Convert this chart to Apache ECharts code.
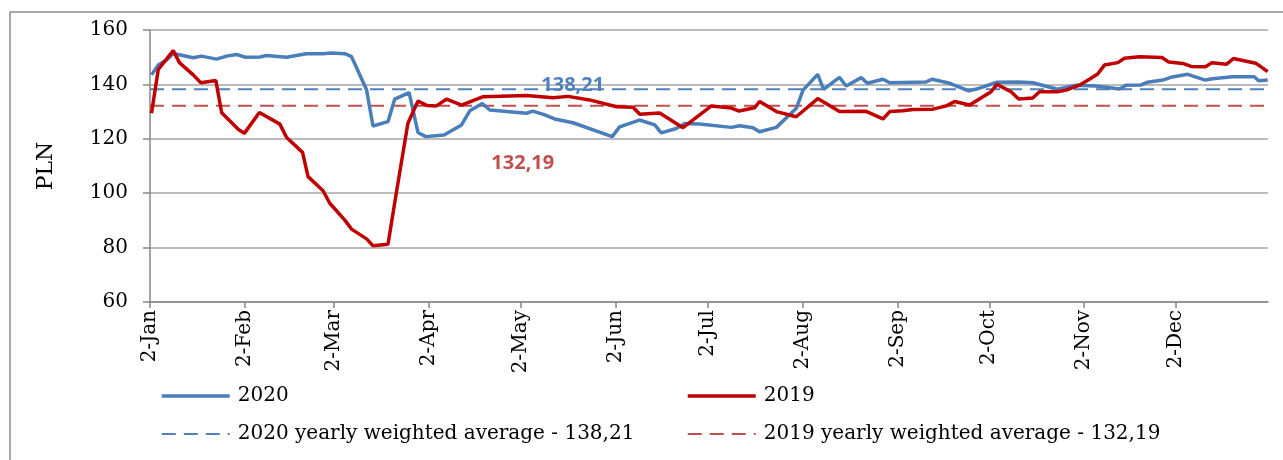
<!DOCTYPE html>
<html>
<head>
<meta charset="utf-8">
<script src="https://cdn.jsdelivr.net/npm/echarts@6/dist/echarts.min.js"></script>
<style>
  html, body { margin: 0; padding: 0; background: #fff; }
  #chart { width: 1283px; height: 460px; }
</style>
</head>
<body>
<div id="chart"></div>
<script>
// day offsets counted from 2-Jan
const tickDays = [0, 31, 60, 91, 121, 152, 182, 213, 244, 274, 305, 335]
const tickLabels = ['2-Jan', '2-Feb', '2-Mar', '2-Apr', '2-May', '2-Jun', '2-Jul', '2-Aug', '2-Sep', '2-Oct', '2-Nov', '2-Dec']

const days2020 = [0.5, 2.7, 5.4, 7.6, 9.2, 14.1, 16.8, 21.7, 25, 28.3, 31, 35.9, 38, 44.6, 51, 56.5, 59.2, 63.6, 65.8,
  70.7, 72.8, 77.7, 79.9, 84.6, 87.5, 90, 96, 101.7, 104.4, 108.5, 110.9, 122.9, 125, 128.9, 132.1, 138.1,
  150.9, 153.3, 159.8, 164.8, 166.9, 171.8, 174.6, 179.4, 189.8, 192.5, 196.9, 199, 204.5, 211, 213.2, 218,
  219.9, 225.1, 227.3, 232.2, 234.2, 239.3, 241.5, 253.4, 255.3, 261.1, 267.3, 270.8, 276.5, 283.8, 288.2,
  296.3, 302.3, 308.8, 316.5, 318.6, 323.6, 325.7, 330.6, 333.3, 338.8, 344.5, 346.9, 353.4, 360.5, 362, 364.9]
const price2020 = [143.5, 147.1, 149, 151.4, 151, 149.8, 150.4, 149.3, 150.4, 151, 150, 150.1, 150.6, 150, 151.3, 151.3, 151.5, 151.3, 150.2,
  138, 124.7, 126.3, 134.6, 137, 122.3, 120.8, 121.4, 125.1, 130.3, 133, 130.6, 129.4, 130.2, 128.8, 127.3, 125.9,
  120.8, 124.4, 126.9, 125.1, 122.2, 123.8, 125.6, 125.4, 124.2, 124.8, 124.1, 122.6, 124.2, 131.2, 137.9, 143.7,
  138.2, 142.6, 139.4, 142.5, 140.4, 141.9, 140.6, 140.9, 141.9, 140.4, 137.6, 138.6, 140.8, 140.9, 140.6,
  138.2, 139.7, 139.4, 138.3, 139.7, 139.8, 140.8, 141.6, 142.6, 143.7, 141.6, 142.1, 142.8, 142.8, 141.3, 141.6]

const days2019 = [0.5, 2.7, 7.6, 9.6, 14.1, 16.6, 21.5, 23.4, 28.8, 30.8, 35.7, 42.4, 44.6, 49.8, 51.6, 56.5, 58.7, 63.6, 65.8,
  70.7, 72.8, 77.7, 80.4, 84.2, 87.5, 90.5, 93.5, 96.8, 101.7, 108.8, 122.9, 131.6, 136.5, 143.5, 152.3, 157.7,
  159.9, 166.4, 174, 183.3, 189.8, 192.3, 197.4, 199, 204.5, 211, 218, 225.1, 233.8, 239.3, 241.5, 245.8, 249.1,
  255.6, 260, 262.7, 267.6, 274.6, 276.5, 281.1, 283.6, 288.2, 290.4, 296.3, 299.1, 303.4, 306.7, 309.4, 311.6,
  316, 318.1, 323, 330.4, 332.6, 337.2, 339.9, 344.6, 346.7, 351.4, 353.7, 361, 364.9]
const price2019 = [129.4, 145.5, 152.4, 148, 143.5, 140.6, 141.4, 129.6, 123.5, 122, 129.7, 125.4, 120.5, 115, 106.1, 100.9, 96.3, 90.1, 86.8,
  83.2, 80.7, 81.2, 100, 125.7, 133.9, 132.2, 132.1, 134.6, 132.4, 135.5, 135.9, 135.1, 135.6, 134.3, 131.8, 131.6,
  129, 129.5, 124.1, 132.1, 131.3, 130.2, 131.4, 133.7, 130, 128.1, 134.8, 130, 130.1, 127.3, 130, 130.3, 130.8,
  130.9, 132.1, 133.7, 132.4, 137.3, 140, 137.3, 134.6, 135, 137.3, 137.3, 137.9, 139.7, 141.9, 143.8, 147.1,
  148, 149.6, 150.2, 149.9, 148.2, 147.7, 146.6, 146.5, 148, 147.4, 149.5, 147.8, 144.7]

const avg2020 = 138.21
const avg2019 = 132.19
const seriesNames = ['2020', '2019', '2020 yearly weighted average - 138,21', '2019 yearly weighted average - 132,19']

const serif = 'DejaVu Serif'

function pairs(xs, ys) {
    return xs.map((x, i) => [x, ys[i]])
}

function legendAt(left, solidName, dashName) {
    return {
        left: left, top: 384, orient: 'vertical', padding: 0,
        itemWidth: 68, itemHeight: 14, itemGap: 14,
        itemStyle: { opacity: 0 },
        textStyle: { fontFamily: serif, fontSize: 20, color: '#000', lineHeight: 24, padding: [0, 0, 0, 3] },
        data: [{ name: solidName, lineStyle: { width: 3.5 } }, { name: dashName }]
    }
}

const myChart = echarts.init(document.getElementById('chart'))
const option = {
    backgroundColor: '#fff',
    animation: false,
    graphic: [{
        type: 'rect',
        shape: { x: 10, y: 12, width: 1320, height: 500 },
        style: { fill: 'none', stroke: '#8c8c8c', lineWidth: 1.5 },
        silent: true
    }],
    grid: { left: 150, right: 15, top: 30, bottom: 158 },
    legend: [legendAt(160, seriesNames[0], seriesNames[2]), legendAt(686, seriesNames[1], seriesNames[3])],
    xAxis: {
        type: 'value', min: 0, max: 365,
        axisLine: { lineStyle: { color: '#868686', width: 1.5 } },
        axisTick: { show: true, customValues: tickDays, length: 6, lineStyle: { color: '#868686', width: 1.5 } },
        axisLabel: {
            customValues: tickDays, rotate: 90, margin: 8,
            fontFamily: serif, fontSize: 20, color: '#000',
            formatter: (v) => tickLabels[tickDays.indexOf(v)]
        },
        splitLine: { show: false }
    },
    yAxis: {
        type: 'value', min: 60, max: 160, interval: 20,
        name: 'PLN', nameLocation: 'middle', nameRotate: 90, nameGap: 93,
        nameTextStyle: { fontFamily: serif, fontSize: 22, color: '#000' },
        axisLine: { show: true, lineStyle: { color: '#868686', width: 1.5 } },
        axisTick: { show: true, length: 7, lineStyle: { color: '#868686', width: 1.5 } },
        axisLabel: { fontFamily: serif, fontSize: 20, color: '#000', margin: 22 },
        splitLine: { lineStyle: { color: '#a6a6a6', width: 1.5 } }
    },
    series: [{
        name: seriesNames[0], type: 'line', symbol: 'none', z: 3,
        lineStyle: { color: '#4a7ebb', width: 3.5 }, itemStyle: { color: '#4a7ebb' },
        data: pairs(days2020, price2020)
    }, {
        name: seriesNames[1], type: 'line', symbol: 'none', z: 4,
        lineStyle: { color: '#c00000', width: 3.5 }, itemStyle: { color: '#c00000' },
        data: pairs(days2019, price2019)
    }, {
        name: seriesNames[2], type: 'line', symbol: 'none', z: 2,
        lineStyle: { color: '#4f81bd', width: 2, type: [14, 8] }, itemStyle: { color: '#4f81bd' },
        data: [[0, avg2020], [365, avg2020]],
        markPoint: {
            symbol: 'rect', symbolSize: 1, itemStyle: { color: 'transparent' },
            label: { show: true, position: 'inside', formatter: '138,21', color: '#4f81bd', fontFamily: 'Open Sans', fontWeight: 'bold', fontSize: 20 },
            data: [{ coord: [138, 139.6] }]
        }
    }, {
        name: seriesNames[3], type: 'line', symbol: 'none', z: 2,
        lineStyle: { color: '#c0504d', width: 2, type: [14, 8] }, itemStyle: { color: '#c0504d' },
        data: [[0, avg2019], [365, avg2019]],
        markPoint: {
            symbol: 'rect', symbolSize: 1, itemStyle: { color: 'transparent' },
            label: { show: true, position: 'inside', formatter: '132,19', color: '#c0504d', fontFamily: 'Open Sans', fontWeight: 'bold', fontSize: 20 },
            data: [{ coord: [121.7, 111.1] }]
        }
    }]
}
myChart.setOption(option)
</script>
</body>
</html>
